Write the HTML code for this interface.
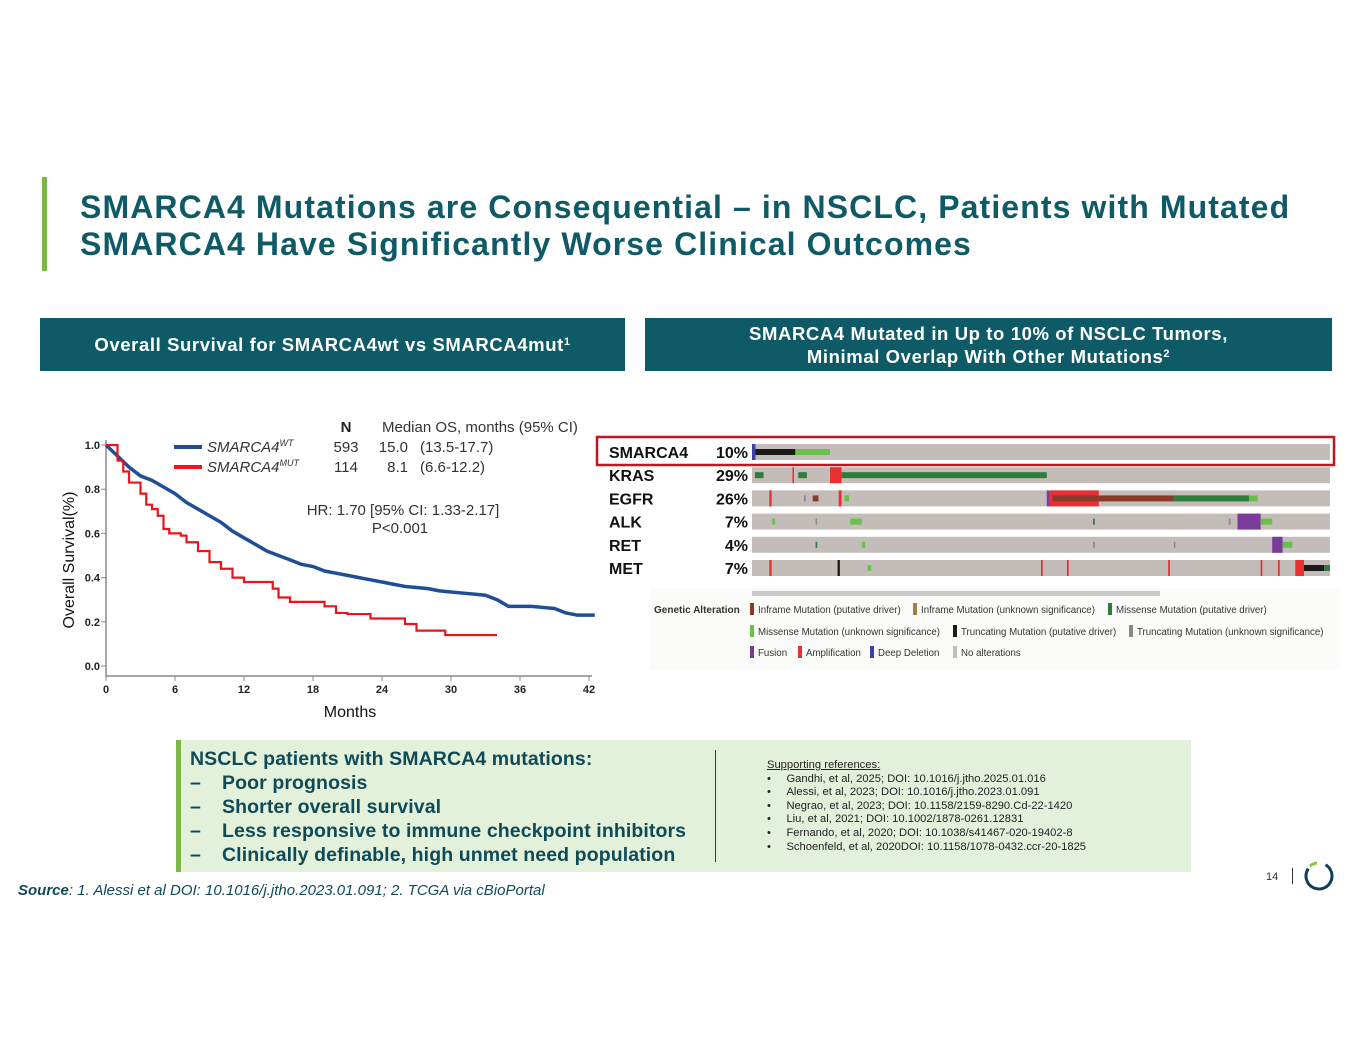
<!DOCTYPE html>
<html><head><meta charset="utf-8"><style>
body{margin:0;width:1365px;height:1055px;background:#fff;position:relative;font-family:"Liberation Sans",Arial,sans-serif;overflow:hidden}
.abs{position:absolute}
.hdr{background:#0f5a67;color:#fff;font-weight:bold;font-size:18.5px;text-align:center;display:flex;align-items:center;justify-content:center;line-height:23px;white-space:nowrap;letter-spacing:0.6px}
sup{line-height:0;vertical-align:6px}
</style></head><body>
<div class="abs" style="left:42px;top:177px;width:5px;height:94px;background:#7ab648"></div>
<div class="abs" style="left:80px;top:189px;font-size:32px;font-weight:bold;color:#0f5a67;line-height:37px;letter-spacing:1.1px;white-space:nowrap">SMARCA4 Mutations are Consequential – in NSCLC, Patients with Mutated<br>SMARCA4 Have Significantly Worse Clinical Outcomes</div>
<div class="abs hdr" style="left:40px;top:318px;width:585px;height:53px"><span>Overall Survival for SMARCA4wt vs SMARCA4mut<sup style="font-size:11px">1</sup></span></div>
<div class="abs hdr" style="left:645px;top:318px;width:687px;height:53px"><span>SMARCA4 Mutated in Up to 10% of NSCLC Tumors,<br>Minimal Overlap With Other Mutations<sup style="font-size:11px">2</sup></span></div>

<svg class="abs" style="left:0;top:0" width="1365" height="1055">
<g id="km"></g>
<g id="onco"></g>
</svg>

<div class="abs" style="left:176px;top:740px;width:1010px;height:132px;background:#e3f0da;border-left:5px solid #7ab648"></div>
<div class="abs" style="left:715px;top:750px;width:1px;height:112px;background:#1f3f70"></div>
<div class="abs" style="left:190px;top:747px;font-size:19.5px;font-weight:bold;color:#0f4a57;line-height:24px;white-space:nowrap;letter-spacing:0.1px">
NSCLC patients with SMARCA4 mutations:<br>
<span style="display:inline-block;width:32px">–</span>Poor prognosis<br>
<span style="display:inline-block;width:32px">–</span>Shorter overall survival<br>
<span style="display:inline-block;width:32px">–</span>Less responsive to immune checkpoint inhibitors<br>
<span style="display:inline-block;width:32px">–</span>Clinically definable, high unmet need population</div>
<div class="abs" style="left:767px;top:759px;font-size:11.2px;color:#222;line-height:13.6px;white-space:nowrap">
<u>Supporting references:</u><br>
•&nbsp;&nbsp;&nbsp;&nbsp;&nbsp;Gandhi, et al, 2025; DOI: 10.1016/j.jtho.2025.01.016<br>
•&nbsp;&nbsp;&nbsp;&nbsp;&nbsp;Alessi, et al, 2023; DOI: 10.1016/j.jtho.2023.01.091<br>
•&nbsp;&nbsp;&nbsp;&nbsp;&nbsp;Negrao, et al, 2023; DOI: 10.1158/2159-8290.Cd-22-1420<br>
•&nbsp;&nbsp;&nbsp;&nbsp;&nbsp;Liu, et al, 2021; DOI: 10.1002/1878-0261.12831<br>
•&nbsp;&nbsp;&nbsp;&nbsp;&nbsp;Fernando, et al, 2020; DOI: 10.1038/s41467-020-19402-8<br>
•&nbsp;&nbsp;&nbsp;&nbsp;&nbsp;Schoenfeld, et al, 2020DOI: 10.1158/1078-0432.ccr-20-1825</div>
<div class="abs" style="left:18px;top:882px;font-size:15px;font-style:italic;color:#0f4a57;white-space:nowrap"><b>Source</b>: 1. Alessi et al DOI: 10.1016/j.jtho.2023.01.091; 2. TCGA via cBioPortal</div>
<div class="abs" style="left:1266px;top:871px;font-size:11px;color:#333">14</div>
<div class="abs" style="left:1292px;top:868px;width:1px;height:16px;background:#333"></div>
<svg class="abs" style="left:1302px;top:859px" width="34" height="34"><circle cx="17" cy="17" r="13" fill="none" stroke="#0f3d5a" stroke-width="3" stroke-dasharray="62 20" transform="rotate(-60 17 17)"/><path d="M8 7 A13 13 0 0 1 15 4" fill="none" stroke="#8cc63f" stroke-width="3"/></svg>

<script>
// KM data
const wtMonths=[0,1,2,3,4,5,6,7,8,9,10,11,12,13,14,15,16,17,18,19,20,21,22,23,24,25,26,27,28,29,30,31,32,33,34,35,36,37,38,39,40,41,42.5];
const wtSurv=[1.0,0.95,0.90,0.86,0.84,0.81,0.78,0.74,0.71,0.68,0.65,0.61,0.58,0.55,0.52,0.50,0.48,0.46,0.45,0.43,0.42,0.41,0.40,0.39,0.38,0.37,0.36,0.355,0.35,0.34,0.335,0.33,0.325,0.32,0.30,0.27,0.27,0.27,0.265,0.26,0.24,0.23,0.23];
const mutMonths=[0,1,1.5,2,3,3.5,4,4.5,5,5.5,6.5,7,8,9,10,11,12,14.5,15,16,19,20,21,23,26,27,29.5,34];
const mutSurv=[1.0,0.93,0.88,0.83,0.78,0.73,0.71,0.68,0.62,0.60,0.59,0.56,0.52,0.47,0.44,0.40,0.38,0.35,0.31,0.29,0.27,0.24,0.235,0.215,0.19,0.16,0.14,0.14];
const xTicks=[0,6,12,18,24,30,36,42];
const yTicks=[0.0,0.2,0.4,0.6,0.8,1.0];
const NS='http://www.w3.org/2000/svg';
const sx=m=>106+m*(483/42), sy=v=>666-v*221;
function mk(tag,attrs,parent,text){const e=document.createElementNS(NS,tag);for(const k in attrs)e.setAttribute(k,attrs[k]);if(text!==undefined)e.textContent=text;parent.appendChild(e);return e;}
const km=document.getElementById('km');
let ax=mk('path',{d:`M106 440 V676 H592`,stroke:'#888',fill:'none','stroke-width':1.5},km);


xTicks.forEach(t=>{mk('line',{x1:sx(t),x2:sx(t),y1:676,y2:681,stroke:'#888'},km);
 const l=mk('text',{x:sx(t),y:693,'font-size':11,'text-anchor':'middle',fill:'#222','font-weight':'bold'},km,String(t));
 
 });
yTicks.forEach(t=>{mk('line',{x1:101,x2:106,y1:sy(t),y2:sy(t),stroke:'#888'},km);
 const l=mk('text',{x:100,y:sy(t)+4,'font-size':11,'text-anchor':'end',fill:'#222','font-weight':'bold'},km,t.toFixed(1));
 
 });
function step(ms,ss){let d=`M${sx(ms[0])} ${sy(ss[0])}`;for(let i=1;i<ms.length;i++){d+=` H${sx(ms[i])} V${sy(ss[i])}`;}return d;}
function line(ms,ss){return ms.map((m,i)=>(i?'L':'M')+sx(m)+' '+sy(ss[i])).join(' ');}
const wt=mk('path',{d:line(wtMonths,wtSurv),stroke:'#1f4e96',fill:'none','stroke-width':3.5,'stroke-linejoin':'round'},km);


const mu=mk('path',{d:step(mutMonths,mutSurv),stroke:'#e8151b',fill:'none','stroke-width':2.2},km);


const yt=mk('text',{x:74,y:560,'font-size':16,'text-anchor':'middle',fill:'#111',transform:'rotate(-90 74 560)'},km,'Overall Survival(%)');


const xt=mk('text',{x:350,y:717,'font-size':16,'text-anchor':'middle',fill:'#111'},km,'Months');


const lg=[['#1f4e96','WT','593','15.0','(13.5-17.7)',452],['#e8151b','MUT','114','8.1','(6.6-12.2)',472]];
mk('text',{x:346,y:432,'font-size':15,'font-weight':'bold','text-anchor':'middle',fill:'#222'},km,'N');
mk('text',{x:382,y:432,'font-size':15,fill:'#333'},km,'Median OS, months (95% CI)');
lg.forEach(r=>{const g=mk('g',{},km);
 
 
 mk('line',{x1:174,x2:202,y1:r[5]-5,y2:r[5]-5,stroke:r[0],'stroke-width':4},g);
 const t=mk('text',{x:207,y:r[5],'font-size':15,'font-style':'italic',fill:'#333'},g,'SMARCA4');
 mk('tspan',{'font-size':9,dy:-6},t,r[1]);
 mk('text',{x:346,y:r[5],'font-size':15,'text-anchor':'middle',fill:'#333'},g,r[2]);
 mk('text',{x:408,y:r[5],'font-size':15,'text-anchor':'end',fill:'#333'},g,r[3]);
 mk('text',{x:420,y:r[5],'font-size':15,fill:'#333'},g,r[4]);});
mk('text',{x:403,y:515,'font-size':15,'text-anchor':'middle',fill:'#333'},km,'HR: 1.70 [95% CI: 1.33-2.17]');
mk('text',{x:400,y:533,'font-size':15,'text-anchor':'middle',fill:'#333'},km,'P<0.001');

// Oncoprint
const genes=['SMARCA4','KRAS','EGFR','ALK','RET','MET'];
const pcts=['10%','29%','26%','7%','4%','7%'];
const colors={mis:'#2e7d3e',misu:'#6bbf4b',trunc:'#1a1a1a',amp:'#e83030',fus:'#7b3b9b',del:'#4040a0',inf:'#8b3a2a',tu:'#888'};
const segs=[[0,0,0.006,'del',1],[0,0.006,0.075,'trunc',0],[0,0.075,0.135,'misu',0],
[1,0.005,0.02,'mis',0],[1,0.08,0.095,'mis',0],[1,0.135,0.155,'amp',1],[1,0.155,0.51,'mis',0],[1,0.07,0.072,'amp',1],
[2,0.03,0.034,'amp',1],[2,0.105,0.115,'inf',0],[2,0.15,0.155,'amp',1],[2,0.51,0.515,'fus',1],[2,0.515,0.6,'amp',1],[2,0.52,0.6,'inf',0],[2,0.6,0.73,'inf',0],[2,0.73,0.86,'mis',0],[2,0.86,0.875,'misu',0],[2,0.09,0.093,'tu',0],[2,0.16,0.168,'misu',0],
[3,0.17,0.19,'misu',0],[3,0.84,0.88,'fus',1],[3,0.88,0.9,'misu',0],[3,0.035,0.04,'misu',0],[3,0.59,0.593,'mis',0],[3,0.11,0.112,'tu',0],[3,0.825,0.828,'tu',0],
[4,0.9,0.918,'fus',1],[4,0.918,0.935,'misu',0],[4,0.11,0.113,'mis',0],[4,0.19,0.196,'misu',0],[4,0.59,0.593,'tu',0],[4,0.73,0.732,'tu',0],
[5,0.03,0.034,'amp',1],[5,0.5,0.503,'amp',1],[5,0.545,0.548,'amp',1],[5,0.72,0.723,'amp',1],[5,0.94,0.955,'amp',1],[5,0.955,0.99,'trunc',0],[5,0.99,1,'mis',0],[5,0.148,0.152,'trunc',1],[5,0.2,0.206,'misu',0],[5,0.88,0.883,'amp',1],[5,0.91,0.913,'amp',1]];
const on=document.getElementById('onco');
const ox=752,ow=578,oy=r=>444+r*23.2,oh=16;
genes.forEach((g,i)=>{const bg=mk('rect',{x:ox,y:oy(i),width:ow,height:oh,fill:'#c4bcb8'},on);
 
 
 const t=mk('text',{x:609,y:oy(i)+14,'font-size':16,'font-weight':'bold',fill:'#111'},on,g);
 
 
 const p=mk('text',{x:748,y:oy(i)+14,'font-size':16,'font-weight':'bold','text-anchor':'end',fill:'#111'},on,pcts[i]);
 
 });
segs.forEach(s=>{const h=s[4]?oh:6;const r=mk('rect',{x:ox+s[1]*ow,y:oy(s[0])+(oh-h)/2,width:Math.max(1.5,(s[2]-s[1])*ow),height:h,fill:colors[s[3]]},on);
 
 });
const hl=mk('rect',{x:597,y:437,width:737,height:28,fill:'none',stroke:'#c0161c','stroke-width':2.5},on);


mk('rect',{x:650,y:588,width:690,height:82,fill:'#fbfcfa'},on);
mk('rect',{x:752,y:591,width:408,height:5,fill:'#c8c8c8'},on);
mk('text',{x:654,y:613,'font-size':10,'font-weight':'bold',fill:'#333'},on,'Genetic Alteration');
const legItems=[[750,612,'#8b3a2a','Inframe Mutation (putative driver)'],[913,612,'#a08040','Inframe Mutation (unknown significance)'],[1108,612,'#2e7d3e','Missense Mutation (putative driver)'],
[750,634,'#6bbf4b','Missense Mutation (unknown significance)'],[953,634,'#1a1a1a','Truncating Mutation (putative driver)'],[1129,634,'#888','Truncating Mutation (unknown significance)'],
[750,655,'#7b3b9b','Fusion'],[798,655,'#e83030','Amplification'],[870,655,'#4040a0','Deep Deletion'],[953,655,'#c4bcb8','No alterations']];
legItems.forEach(l=>{const g=mk('g',{},on);
 
 
 mk('rect',{x:l[0],y:l[1]-9,width:4,height:12,fill:l[2]},g);
 mk('text',{x:l[0]+8,y:l[1]+1,'font-size':9.7,fill:'#333'},g,l[3]);});
</script>
</body></html>
